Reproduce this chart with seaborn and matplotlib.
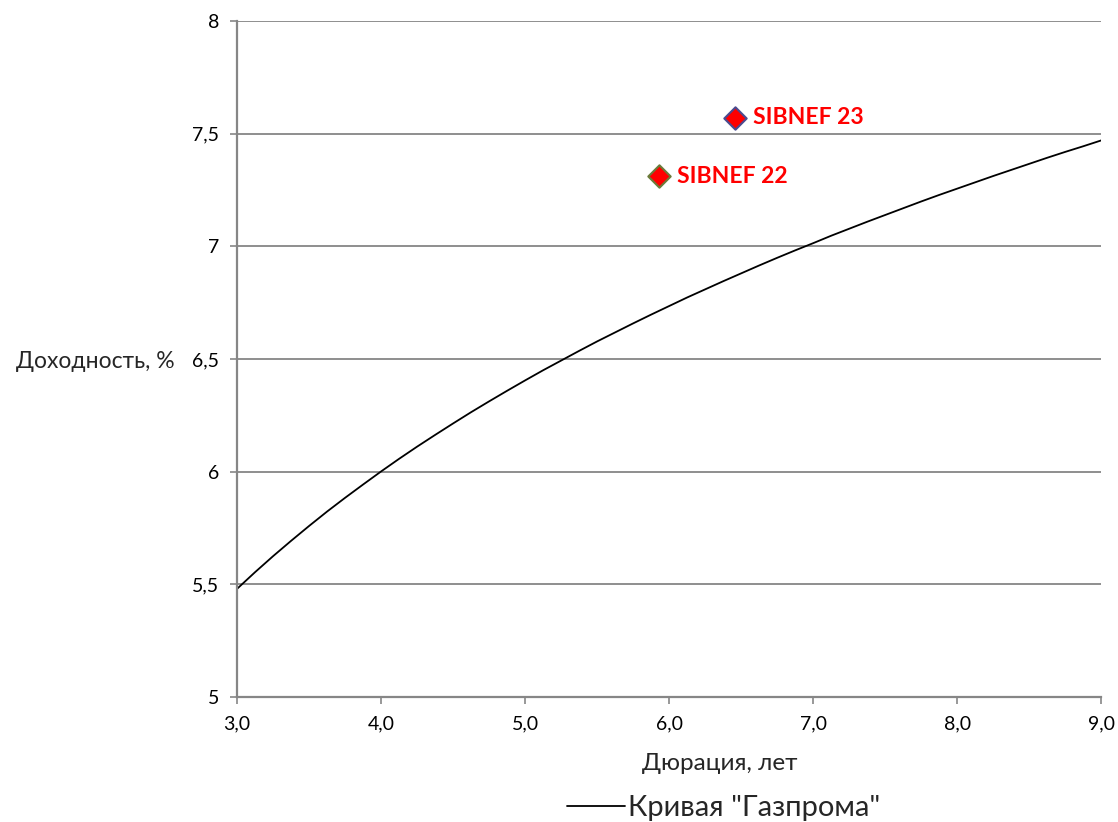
import matplotlib
matplotlib.use('Agg')
import matplotlib.pyplot as plt
import seaborn as sns
import pandas as pd

# curve values
curve_x = [3.0, 3.125, 3.25, 3.375, 3.5, 3.625, 3.75, 3.875, 4.0, 4.125, 4.25, 4.375,
           4.5, 4.625, 4.75, 4.875, 5.0, 5.125, 5.25, 5.375, 5.5, 5.625, 5.75, 5.875,
           6.0, 6.125, 6.25, 6.375, 6.5, 6.625, 6.75, 6.875, 7.0, 7.125, 7.25, 7.375,
           7.5, 7.625, 7.75, 7.875, 8.0, 8.125, 8.25, 8.375, 8.5, 8.625, 8.75, 8.875, 9.0]
curve_y = [5.480, 5.554, 5.625, 5.693, 5.759, 5.823, 5.884, 5.943, 6.001, 6.057, 6.111, 6.163,
           6.214, 6.264, 6.312, 6.359, 6.405, 6.450, 6.493, 6.536, 6.578, 6.618, 6.658, 6.697,
           6.735, 6.773, 6.809, 6.845, 6.880, 6.915, 6.949, 6.982, 7.014, 7.047, 7.078, 7.109,
           7.139, 7.169, 7.199, 7.228, 7.256, 7.284, 7.312, 7.339, 7.366, 7.393, 7.419, 7.444, 7.470]
curve_name = 'Кривая "Газпрома"'

bond_names = ['SIBNEF 22', 'SIBNEF 23']
bond_dur = [5.93, 6.46]
bond_yield = [7.31, 7.57]
bond_edges = ['#6b7b3a', '#4b4b8f']

x_ticks = [3, 4, 5, 6, 7, 8, 9]
x_labels = ['3,0', '4,0', '5,0', '6,0', '7,0', '8,0', '9,0']
y_ticks = [5, 5.5, 6, 6.5, 7, 7.5, 8]
y_labels = ['5', '5,5', '6', '6,5', '7', '7,5', '8']

sns.set_style('white')
plt.rcParams['font.family'] = ['Lato', 'Noto Sans', 'DejaVu Sans']

df_curve = pd.DataFrame({'x': curve_x, 'y': curve_y})

fig = plt.figure(figsize=(11.18, 8.22), dpi=100)
ax = fig.add_axes([0.212, 0.152, 0.773, 0.8225])

grid_c = '#868686'
for yv in y_ticks[1:]:
    ax.axhline(yv, color=grid_c, lw=1.3, zorder=0)

sns.lineplot(data=df_curve, x='x', y='y', color='black', lw=1.3, ax=ax, label=curve_name)
handles, labels = ax.get_legend_handles_labels()
if ax.get_legend() is not None:
    ax.get_legend().remove()

for i in range(len(bond_names)):
    sns.scatterplot(x=[bond_dur[i]], y=[bond_yield[i]], marker='D', s=130, color='#ff0000',
                    edgecolor=bond_edges[i], linewidth=1.5, ax=ax, zorder=5, legend=False)
    ax.annotate(bond_names[i], (bond_dur[i], bond_yield[i]), xytext=(13, 0), textcoords='offset points',
                va='center', ha='left', color='#ff0000', fontsize=16.5, fontweight='bold')

ax.set_xlim(3, 9)
ax.set_ylim(5, 8)
ax.set_xticks(x_ticks)
ax.set_xticklabels(x_labels, fontsize=14)
ax.set_yticks(y_ticks)
ax.set_yticklabels(y_labels, fontsize=14)

for s in ['top', 'right']:
    ax.spines[s].set_visible(False)
for s in ['left', 'bottom']:
    ax.spines[s].set_color(grid_c)
    ax.spines[s].set_linewidth(1.6)
ax.tick_params(axis='both', direction='out', length=5, width=1.2, color=grid_c,
               labelcolor='black', bottom=True, left=True)
ax.tick_params(axis='y', pad=8)
ax.tick_params(axis='x', pad=8)

ax.set_xlabel('Дюрация, лет', fontsize=17.5)
ax.xaxis.set_label_coords(0.559, -0.098)
ax.xaxis.label.set_va('center')
ax.set_ylabel('Доходность, %', fontsize=16.5, rotation=0, ha='right', va='center')
ax.yaxis.set_label_coords(-0.072, 0.496)

fig.legend(handles, labels, loc='center', bbox_to_anchor=(0.647, 0.017), frameon=False,
           fontsize=21, handlelength=2.0, handletextpad=0.1)

fig.savefig('out.png', dpi=100)
